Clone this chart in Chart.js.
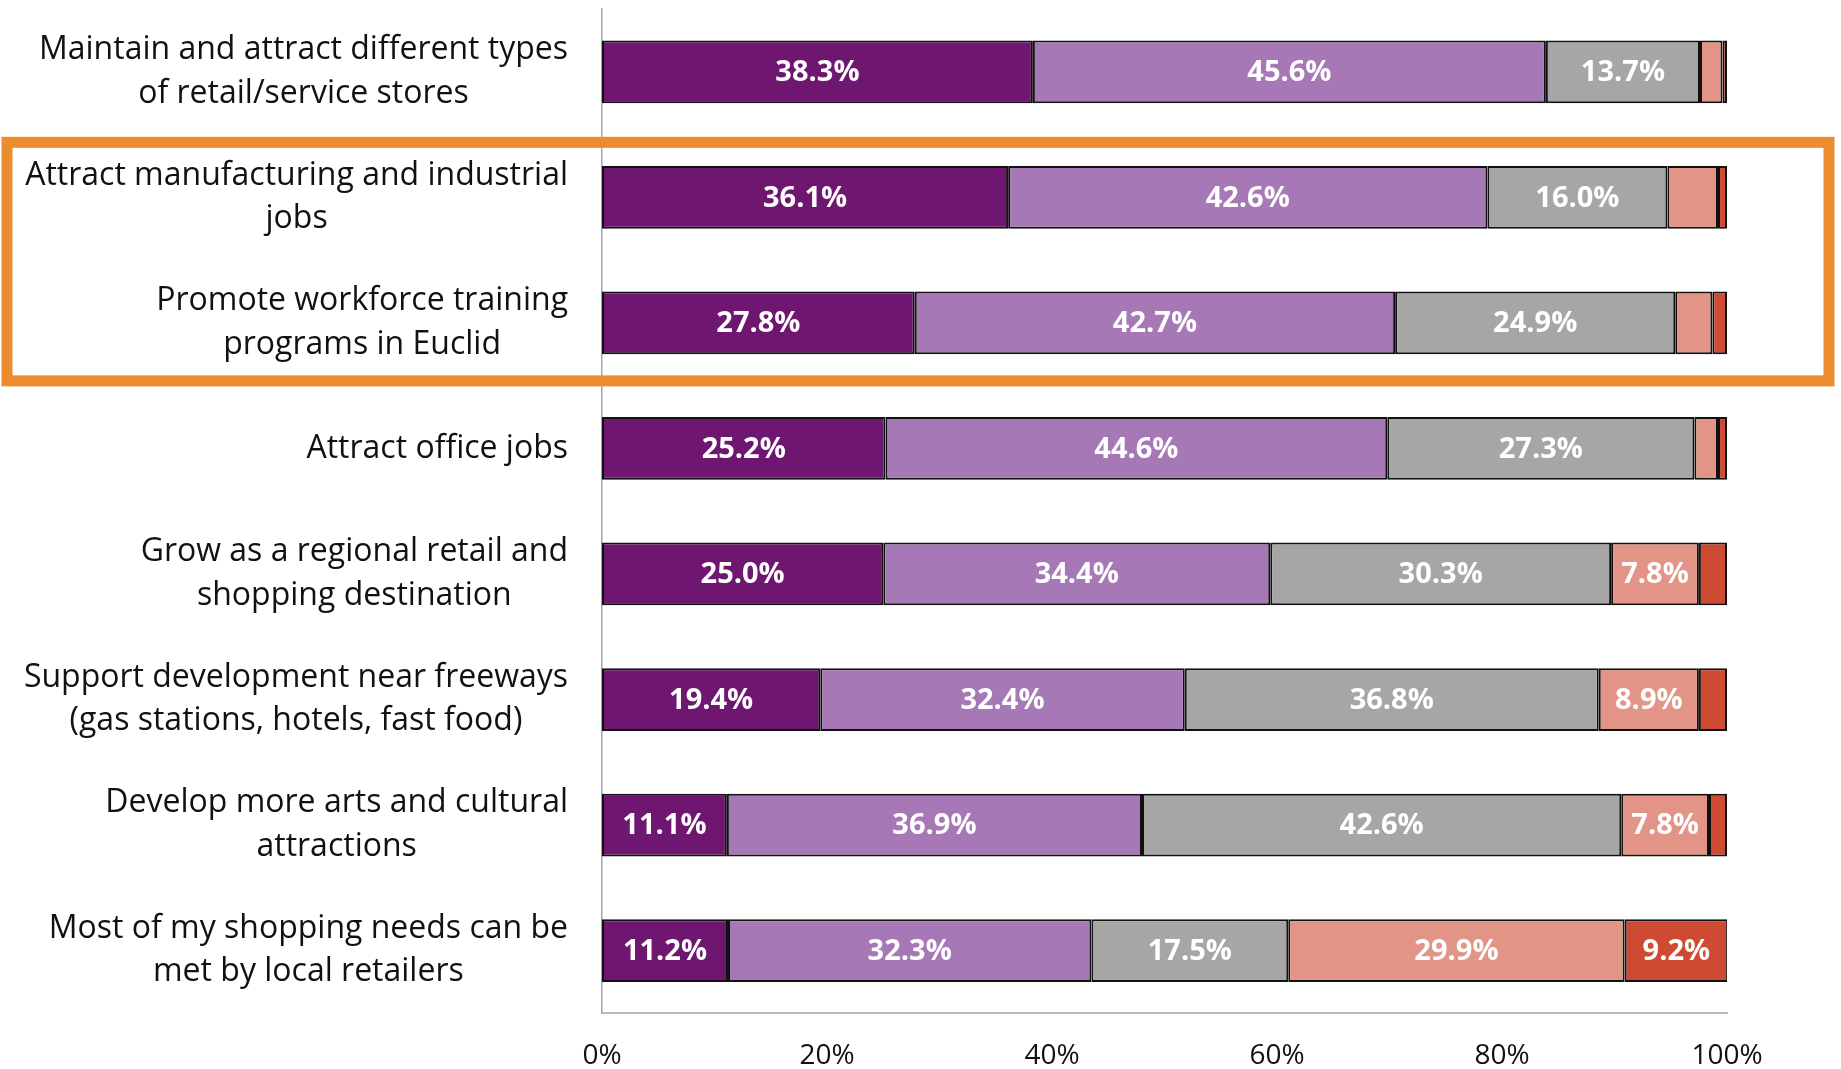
<!DOCTYPE html>
<html lang="en">
<head>
    <meta charset="UTF-8">
    <title>Economic development priorities</title>
    <style>
        body {margin: 0; background: #fff;}
        .chart-wrap {width: 1841px; height: 1069px;}
    </style>
</head>
<body>
    <div class="chart-wrap">
        <canvas id="myChart" width="1841" height="1069"></canvas>
    </div>

    <script src="https://cdn.jsdelivr.net/npm/chart.js@4.4.1/dist/chart.umd.min.js"></script>
    <script>
// categories (top to bottom)
var categories = [
    ['Maintain and attract different types', 'of retail/service stores'],
    ['Attract manufacturing and industrial', 'jobs'],
    ['Promote workforce training', 'programs in Euclid'],
    ['Attract office jobs'],
    ['Grow as a regional retail and', 'shopping destination'],
    ['Support development near freeways', '(gas stations, hotels, fast food)'],
    ['Develop more arts and cultural', 'attractions'],
    ['Most of my shopping needs can be', 'met by local retailers']
];

// series values (%)
var stronglyAgree    = [38.3, 36.1, 27.8, 25.2, 25.0, 19.4, 11.1, 11.2];
var agree            = [45.6, 42.6, 42.7, 44.6, 34.4, 32.4, 36.9, 32.3];
var neutral          = [13.7, 16.0, 24.9, 27.3, 30.3, 36.8, 42.6, 17.5];
var disagree         = [2.0, 4.5, 3.3, 2.1, 7.8, 8.9, 7.8, 29.9];
var stronglyDisagree = [0.4, 0.8, 1.3, 0.8, 2.5, 2.5, 1.6, 9.2];

var xTicks = [0, 20, 40, 60, 80, 100];

var FONT = '"Open Sans", "Noto Sans", sans-serif';

// 값 라벨 (5% 이상만 표시)
var barLabels = {
    id: 'barLabels',
    afterDatasetsDraw: function(chart) {
        var ctx = chart.ctx;
        ctx.save();
        ctx.fillStyle = '#fff';
        ctx.font = 'bold 29px ' + FONT;
        ctx.textAlign = 'center';
        ctx.textBaseline = 'middle';
        chart.data.datasets.forEach(function(ds, i) {
            chart.getDatasetMeta(i).data.forEach(function(bar, j) {
                var v = ds.data[j];
                if (v < 5) return;
                var p = bar.getCenterPoint();
                ctx.fillText(v.toFixed(1) + '%', p.x, p.y + 1);
            });
        });
        ctx.restore();
    }
};

// 카테고리 라벨 + 주황 박스
var sideLabels = {
    id: 'sideLabels',
    afterDraw: function(chart) {
        var ctx = chart.ctx;
        var y = chart.scales.y;
        ctx.save();
        ctx.fillStyle = '#111';
        ctx.font = '32px ' + FONT;
        ctx.textAlign = 'center';
        ctx.textBaseline = 'middle';
        var rightEdge = chart.chartArea.left - 34;
        categories.forEach(function(lines, i) {
            var cy = y.getPixelForValue(i);
            var maxW = 0;
            lines.forEach(function(l) { maxW = Math.max(maxW, ctx.measureText(l).width); });
            var cx = rightEdge - maxW / 2;
            var lh = 43.5;
            var start = cy - (lines.length - 1) * lh / 2;
            lines.forEach(function(l, k) {
                ctx.fillText(l, cx, start + k * lh);
            });
        });

        // highlight box around rows 2-3
        var top = y.getPixelForValue(1) - 55;
        var bottom = y.getPixelForValue(2) + 58;
        ctx.strokeStyle = '#ED8C2E';
        ctx.lineWidth = 11;
        ctx.strokeRect(7, top, 1829 - 7, bottom - top);
        ctx.restore();
    }
};

function makeSet(label, data, color) {
    return {
        label: label,
        data: data,
        backgroundColor: color,
        borderColor: '#111',
        borderWidth: 2,
        borderSkipped: false,
        categoryPercentage: 1,
        barPercentage: 0.5
    };
}

const ctx = document.getElementById('myChart').getContext('2d');

const config = {
    type: 'bar',
    plugins: [barLabels, sideLabels],
    data: {
        labels: categories.map(function(c) { return c.join(' '); }),
        datasets: [
            makeSet('Strongly agree', stronglyAgree, '#6E1670'),
            makeSet('Agree', agree, '#A679B6'),
            makeSet('Neutral', neutral, '#A6A6A6'),
            makeSet('Disagree', disagree, '#E29486'),
            makeSet('Strongly disagree', stronglyDisagree, '#CF4A32')
        ]
    },
    options: {
        responsive: false,
        animation: false,
        indexAxis: 'y',
        layout: {
            padding: {left: 602, right: 114, top: 9, bottom: -30}
        },
        plugins: {
            legend: {display: false},
            title: {display: false},
            tooltip: {enabled: false}
        },
        scales: {
            x: {
                stacked: true,
                min: 0,
                max: 100,
                afterBuildTicks: function(axis) {
                    axis.ticks = xTicks.map(function(v) { return {value: v}; });
                },
                grid: {display: false, drawTicks: false},
                border: {display: true, color: '#BBBBBB', width: 2},
                ticks: {
                    padding: 26,
                    color: '#111',
                    font: {family: FONT, size: 28},
                    callback: function(v) { return v + '%'; }
                }
            },
            y: {
                stacked: true,
                grid: {display: false, drawTicks: false},
                border: {display: true, color: '#A6A6A6', width: 1.5},
                ticks: {display: false}
            }
        }
    }
};

const myChart = new Chart(ctx, config);
    </script>
</body>
</html>
